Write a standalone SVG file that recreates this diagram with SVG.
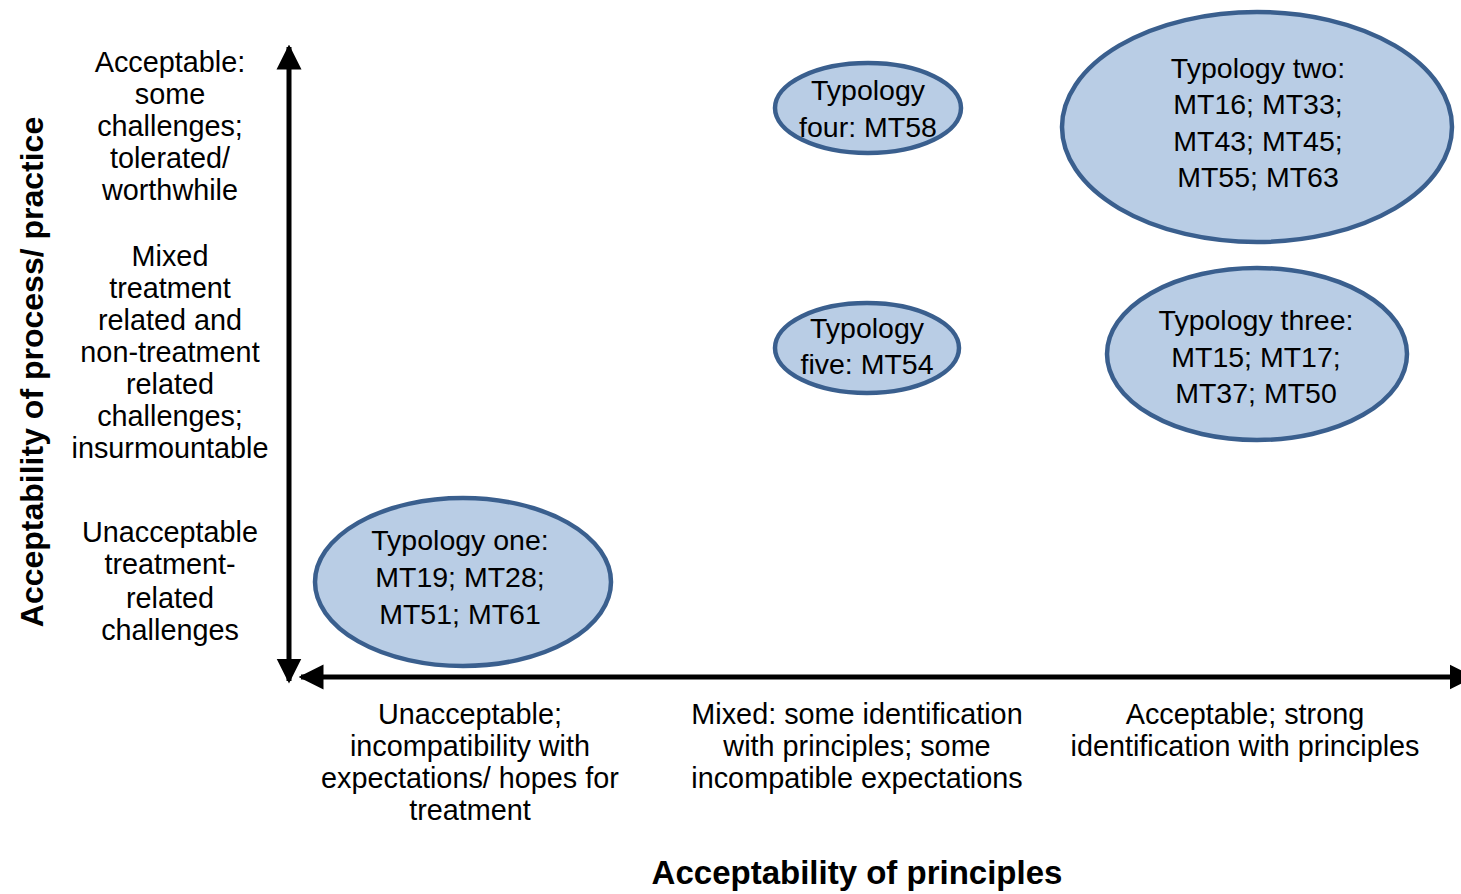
<svg xmlns="http://www.w3.org/2000/svg" width="1461" height="894" viewBox="0 0 1461 894">
<style>
text{font-family:"Liberation Sans",Arial,sans-serif;fill:#000;}
.lbl{font-size:28.8px;text-anchor:middle;}
.ttl{font-size:33px;font-weight:bold;text-anchor:middle;}
.ttl.v{font-size:32px;}
.node ellipse{fill:#b9cde5;stroke:#3a5f8e;stroke-width:4.5;}
.node text{font-size:28.5px;text-anchor:middle;}
.ax{stroke:#000;stroke-width:5;fill:none;}
</style>
<defs>
<marker id="ah" viewBox="0 0 10 10" refX="9" refY="5" markerWidth="5" markerHeight="5.5" orient="auto-start-reverse" markerUnits="strokeWidth">
<path d="M0,0 L10,5 L0,10 z" fill="#000"/>
</marker>
</defs>
<rect width="1461" height="894" fill="#fff"/>
<g id="connectors">
<line class="ax" x1="289" y1="47" x2="289" y2="681" marker-start="url(#ah)" marker-end="url(#ah)"/>
<line class="ax" x1="301" y1="677" x2="1472" y2="677" marker-start="url(#ah)" marker-end="url(#ah)"/>
</g>
<g id="y-labels">
<text class="lbl"><tspan x="170" y="72">Acceptable:</tspan><tspan x="170" y="104">some</tspan><tspan x="170" y="136">challenges;</tspan><tspan x="170" y="168">tolerated/</tspan><tspan x="170" y="200">worthwhile</tspan></text>
<text class="lbl"><tspan x="170" y="266">Mixed</tspan><tspan x="170" y="298">treatment</tspan><tspan x="170" y="330">related and</tspan><tspan x="170" y="362">non-treatment</tspan><tspan x="170" y="394">related</tspan><tspan x="170" y="426">challenges;</tspan><tspan x="170" y="458">insurmountable</tspan></text>
<text class="lbl"><tspan x="170" y="542">Unacceptable</tspan><tspan x="170" y="574">treatment-</tspan><tspan x="170" y="608">related</tspan><tspan x="170" y="640">challenges</tspan></text>
<text class="ttl v" transform="translate(43,372) rotate(-90)">Acceptability of process/ practice</text>
</g>
<g id="x-labels">
<text class="lbl"><tspan x="470" y="724">Unacceptable;</tspan><tspan x="470" y="756">incompatibility with</tspan><tspan x="470" y="788">expectations/ hopes for</tspan><tspan x="470" y="820">treatment</tspan></text>
<text class="lbl"><tspan x="857" y="724">Mixed: some identification</tspan><tspan x="857" y="756">with principles; some</tspan><tspan x="857" y="788">incompatible expectations</tspan></text>
<text class="lbl"><tspan x="1245" y="724">Acceptable; strong</tspan><tspan x="1245" y="756">identification with principles</tspan></text>
<text class="ttl" x="857" y="884">Acceptability of principles</text>
</g>
<g id="typology-one" class="node">
<ellipse cx="463" cy="582" rx="148" ry="84"/>
<text><tspan x="460" y="550">Typology one:</tspan><tspan x="460" y="587">MT19; MT28;</tspan><tspan x="460" y="624">MT51; MT61</tspan></text>
</g>
<g id="typology-two" class="node">
<ellipse cx="1257" cy="127" rx="195" ry="115"/>
<text><tspan x="1258" y="78">Typology two:</tspan><tspan x="1258" y="114">MT16; MT33;</tspan><tspan x="1258" y="151">MT43; MT45;</tspan><tspan x="1258" y="187">MT55; MT63</tspan></text>
</g>
<g id="typology-three" class="node">
<ellipse cx="1257" cy="354" rx="150" ry="86"/>
<text><tspan x="1256" y="330">Typology three:</tspan><tspan x="1256" y="367">MT15; MT17;</tspan><tspan x="1256" y="403">MT37; MT50</tspan></text>
</g>
<g id="typology-four" class="node">
<ellipse cx="868" cy="108" rx="93" ry="45"/>
<text><tspan x="868" y="100">Typology</tspan><tspan x="868" y="137">four: MT58</tspan></text>
</g>
<g id="typology-five" class="node">
<ellipse cx="867" cy="348" rx="92" ry="45"/>
<text><tspan x="867" y="338">Typology</tspan><tspan x="867" y="374">five: MT54</tspan></text>
</g>
</svg>
